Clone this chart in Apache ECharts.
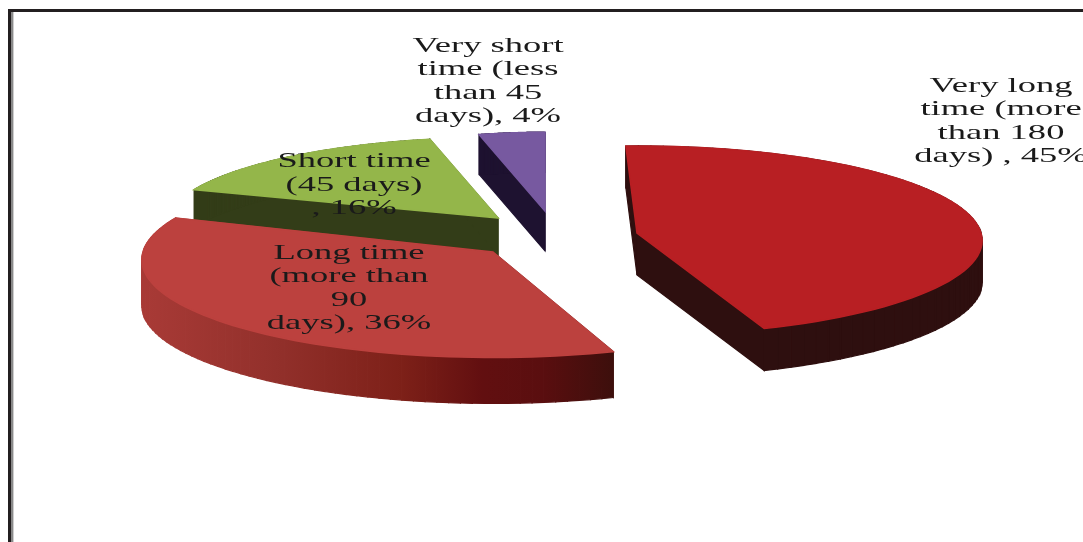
<!DOCTYPE html>
<html>
<head>
<meta charset="utf-8">
<style>html,body{margin:0;padding:0;background:#fff}#chart{width:1083px;height:542px}</style>
<script src="https://cdn.jsdelivr.net/npm/echarts@6/dist/echarts.min.js"></script>
</head>
<body>
<div id="chart"></div>
<script>
// Share of cases by duration, clockwise from twelve o'clock.
const sliceLabels = [
  'Very long\ntime (more\nthan 180\ndays) , 45%',
  'Long time\n(more than\n90\ndays), 36%',
  'Short time\n(45 days)\n, 16%',
  'Very short\ntime (less\nthan 45\ndays), 4%'
];
const sliceValues = [45, 36, 16, 4];

// Exploded-pie layout: apex, radii, wall depth, colours and label anchor of each slice.
const sliceLayout = [
  { cx: 637, cy: 233, rx: 344, ry: 94, depth: 42, spin: 0, order: 3, top: '#b81f23', wall: '#2e0f0f', lx: 1001, ly: 121 },
  { cx: 493, cy: 252, rx: 350, ry: 97, depth: 46, spin: 1.5, order: 4, top: '#bc413e', wall: 'gradient', lx: 349, ly: 288 },
  { cx: 498, cy: 218, rx: 331, ry: 87, depth: 37, spin: 0, order: 2, top: '#94b64a', wall: '#333d18', lx: 354, ly: 185 },
  { cx: 545, cy: 211, rx: 285, ry: 85, depth: 40, spin: -1.6, order: 1, top: '#7759a0', wall: '#1e1230', lx: 488, ly: 81 }
];
const startAngle = -2;
const perspective = 0.08;
const arcSteps = 72;

const longWallFill = new echarts.graphic.LinearGradient(145, 0, 613, 0, [
  { offset: 0, color: '#a83a36' },
  { offset: 0.28, color: '#92302b' },
  { offset: 0.55, color: '#7d2018' },
  { offset: 0.72, color: '#620f10' },
  { offset: 0.85, color: '#5a0e0f' },
  { offset: 1, color: '#3d0f0c' }
], true);

function project(s, deg) {
  const t = deg * Math.PI / 180;
  const f = 1 / (1 + perspective * Math.cos(t));
  return [s.cx + s.rx * Math.sin(t) * f, s.cy - s.ry * Math.cos(t) * f];
}

function renderSlice(params, api) {
  const i = params.dataIndex;
  const s = sliceLayout[i];
  let before = 0;
  for (let k = 0; k < i; k++) before += sliceValues[k];
  const a0 = startAngle + s.spin + before * 3.6;
  const a1 = a0 + api.value(0) * 3.6;

  const outline = [[s.cx, s.cy]];
  for (let k = 0; k <= arcSteps; k++) outline.push(project(s, a0 + (a1 - a0) * k / arcSteps));

  const fill = s.wall === 'gradient' ? longWallFill : s.wall;
  const base = s.order * 10;
  const children = [];
  // Side walls: each outline edge is swept straight down by the slice depth.
  for (let k = 0; k < outline.length; k++) {
    const p = outline[k];
    const q = outline[(k + 1) % outline.length];
    children.push({
      type: 'polygon',
      z2: base,
      shape: { points: [p, q, [q[0], q[1] + s.depth], [p[0], p[1] + s.depth]] },
      style: { fill: fill, stroke: fill, lineWidth: 1.2 }
    });
  }
  children.push({
    type: 'polygon',
    z2: base + 1,
    shape: { points: outline },
    style: { fill: s.top, stroke: s.top, lineWidth: 1.6 }
  });
  children.push({
    type: 'text',
    z2: 100,
    x: s.lx,
    y: s.ly,
    scaleX: 1.66,
    style: {
      text: sliceLabels[i],
      x: 0,
      y: 0,
      textAlign: 'center',
      textVerticalAlign: 'middle',
      font: '22px "Liberation Serif"',
      lineHeight: 23.5,
      fill: '#1a1a1a'
    }
  });
  return { type: 'group', children: children };
}

const chart = echarts.init(document.getElementById('chart'), null, { renderer: 'canvas' });
chart.setOption({
  animation: false,
  backgroundColor: '#ffffff',
  graphic: [
    { type: 'rect', silent: true, shape: { x: 8, y: 9, width: 1075, height: 3 }, style: { fill: '#231f20' } },
    { type: 'rect', silent: true, shape: { x: 8, y: 9, width: 3, height: 533 }, style: { fill: '#231f20' } },
    { type: 'rect', silent: true, shape: { x: 11, y: 12, width: 2, height: 530 }, style: { fill: '#8a8a8a' } },
    { type: 'rect', silent: true, shape: { x: 13, y: 12, width: 1, height: 530 }, style: { fill: '#cfcfcf' } }
  ],
  series: [{
    type: 'custom',
    coordinateSystem: 'none',
    silent: true,
    clip: false,
    renderItem: renderSlice,
    data: sliceValues.map(function (v) { return [v]; })
  }]
});
</script>
</body>
</html>
